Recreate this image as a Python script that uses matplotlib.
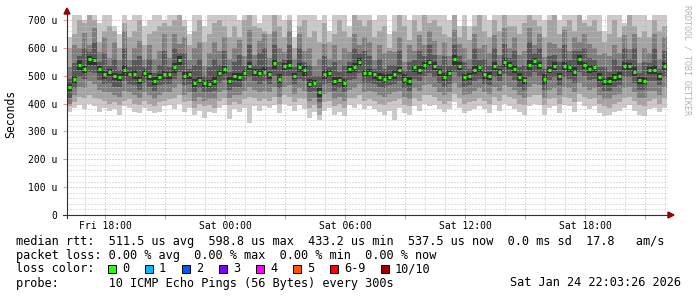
import numpy as np
import matplotlib
matplotlib.use("Agg")
import matplotlib.pyplot as plt
import matplotlib.patches as mpatches
from matplotlib.lines import Line2D
from matplotlib.ticker import MultipleLocator, FixedLocator

W, H = 697, 297
MONO = "DejaVu Sans Mono"

# time axis: hours since Fri 00:00, one value every 15 minutes
T_START = 16.1
STEP_H = 0.25

# median rtt (microseconds)
median = [460, 490, 540, 525, 560, 555, 525, 505, 515, 500, 495, 520, 505, 505, 485, 510, 500, 480, 495, 505,
          505, 530, 555, 500, 505, 475, 485, 475, 472, 480, 510, 525, 480, 500, 495, 510, 535, 515, 510, 515,
          505, 545, 490, 535, 540, 500, 530, 520, 472, 475, 440, 505, 510, 480, 485, 475, 525, 530, 550, 510,
          510, 505, 495, 490, 495, 505, 520, 490, 480, 530, 520, 540, 550, 535, 515, 495, 510, 560, 535, 495,
          500, 520, 530, 505, 500, 535, 515, 548, 540, 525, 495, 485, 540, 552, 540, 488, 522, 535, 500, 535,
          530, 515, 560, 538, 525, 530, 495, 480, 480, 495, 500, 535, 535, 515, 485, 482, 520, 522, 500, 535]

# sorted pings (smoke), ping1 = fastest ... ping10 = slowest
ping10 = [640, 760, 760, 700, 760, 760, 690, 760, 760, 680, 650, 760, 700, 760, 760, 680, 700, 760, 760, 700,
          760, 760, 760, 700, 650, 760, 760, 680, 760, 760, 760, 720, 760, 760, 700, 760, 760, 760, 690, 760,
          760, 760, 760, 700, 760, 640, 760, 760, 760, 760, 700, 760, 660, 760, 760, 760, 680, 760, 760, 760,
          760, 700, 760, 760, 650, 760, 760, 760, 700, 760, 760, 760, 720, 760, 760, 760, 700, 760, 680, 760,
          680, 760, 760, 760, 700, 760, 760, 760, 760, 720, 760, 760, 760, 760, 760, 700, 760, 760, 700, 760,
          760, 760, 760, 700, 760, 760, 760, 660, 760, 760, 760, 690, 760, 760, 760, 760, 700, 760, 760, 740]
ping9 = [600, 650, 700, 690, 720, 700, 620, 660, 680, 660, 600, 690, 640, 660, 700, 610, 650, 660, 680, 690,
         680, 700, 720, 680, 610, 660, 700, 620, 650, 690, 700, 680, 640, 680, 640, 700, 720, 680, 670, 660,
         650, 720, 680, 640, 700, 600, 680, 700, 640, 660, 620, 690, 620, 650, 700, 660, 640, 720, 700, 680,
         700, 640, 660, 680, 600, 660, 720, 680, 630, 700, 660, 720, 690, 700, 680, 650, 640, 720, 640, 680,
         630, 680, 720, 660, 640, 700, 660, 720, 680, 680, 650, 690, 720, 700, 680, 640, 700, 720, 650, 680,
         700, 660, 720, 690, 680, 700, 660, 620, 650, 700, 640, 680, 720, 680, 640, 660, 640, 700, 660, 680]
ping8 = [530, 610, 600, 655, 610, 670, 585, 640, 565, 620, 555, 660, 555, 600, 625, 560, 610, 560, 590, 650,
         565, 650, 615, 640, 555, 600, 620, 535, 580, 620, 590, 640, 560, 600, 630, 570, 665, 575, 625, 650,
         565, 660, 600, 585, 660, 560, 650, 590, 600, 535, 560, 615, 560, 610, 555, 600, 585, 650, 610, 640,
         620, 555, 610, 580, 590, 585, 640, 550, 610, 590, 645, 610, 660, 625, 575, 620, 570, 665, 615, 600,
         560, 650, 600, 610, 580, 645, 575, 670, 600, 640, 575, 590, 670, 612, 650, 568, 620, 615, 600, 665,
         590, 640, 620, 650, 615, 600, 575, 580, 570, 610, 580, 645, 595, 650, 545, 600, 580, 650, 560, 640]
ping7 = [490, 545, 570, 600, 585, 620, 550, 580, 535, 560, 520, 600, 530, 555, 570, 530, 560, 510, 540, 590,
         530, 600, 580, 580, 525, 540, 560, 500, 530, 560, 540, 590, 515, 550, 575, 535, 610, 540, 580, 600,
         530, 610, 550, 560, 610, 530, 600, 550, 540, 500, 500, 570, 530, 550, 515, 540, 550, 600, 580, 590,
         570, 525, 560, 525, 540, 540, 590, 520, 550, 555, 590, 570, 610, 575, 540, 570, 535, 610, 570, 550,
         525, 600, 555, 560, 535, 600, 540, 615, 565, 590, 530, 540, 620, 580, 600, 525, 570, 575, 550, 610,
         555, 590, 590, 600, 565, 555, 530, 530, 515, 560, 535, 600, 560, 600, 510, 550, 545, 600, 525, 590]
ping6 = [470, 500, 555, 535, 570, 565, 535, 520, 525, 510, 505, 540, 515, 520, 500, 520, 510, 495, 505, 520,
         515, 545, 570, 515, 515, 490, 495, 485, 485, 500, 520, 535, 495, 510, 510, 520, 550, 525, 525, 530,
         515, 560, 505, 545, 555, 510, 545, 535, 490, 485, 455, 520, 520, 495, 495, 490, 535, 545, 565, 520,
         525, 515, 510, 505, 505, 520, 530, 505, 495, 540, 535, 550, 560, 550, 525, 510, 520, 575, 550, 505,
         510, 535, 540, 515, 515, 550, 525, 565, 550, 540, 510, 495, 555, 565, 550, 505, 530, 550, 510, 550,
         540, 530, 575, 550, 540, 540, 510, 490, 495, 505, 515, 550, 545, 530, 495, 495, 530, 540, 510, 550]
ping5 = [445, 475, 520, 510, 540, 540, 510, 490, 500, 485, 480, 500, 495, 490, 470, 495, 485, 465, 485, 490,
         490, 510, 540, 490, 490, 460, 475, 460, 460, 465, 495, 505, 470, 485, 480, 500, 520, 500, 495, 505,
         490, 525, 475, 520, 525, 490, 515, 500, 455, 465, 425, 490, 495, 465, 475, 460, 510, 515, 535, 495,
         495, 490, 480, 475, 485, 490, 505, 475, 465, 515, 505, 525, 535, 520, 500, 480, 495, 540, 520, 480,
         485, 505, 515, 490, 485, 520, 500, 530, 525, 510, 480, 470, 520, 540, 525, 470, 510, 520, 485, 520,
         515, 500, 540, 525, 510, 515, 480, 465, 465, 480, 485, 520, 520, 500, 470, 470, 505, 505, 485, 520]
ping4 = [420, 455, 495, 490, 515, 510, 485, 470, 475, 460, 460, 480, 470, 465, 450, 475, 460, 445, 465, 470,
         470, 490, 515, 465, 470, 440, 455, 440, 440, 445, 475, 485, 450, 460, 460, 480, 495, 480, 470, 480,
         470, 500, 455, 500, 500, 470, 490, 480, 440, 445, 405, 470, 475, 445, 455, 440, 485, 490, 510, 475,
         475, 470, 460, 455, 465, 470, 480, 455, 445, 490, 480, 500, 510, 495, 475, 460, 470, 515, 495, 460,
         465, 480, 490, 470, 465, 495, 480, 505, 500, 485, 460, 450, 495, 515, 500, 450, 485, 495, 465, 495,
         490, 475, 515, 500, 485, 490, 460, 445, 445, 460, 465, 495, 495, 475, 450, 450, 480, 480, 465, 495]
ping3 = [400, 430, 460, 455, 480, 470, 450, 440, 440, 430, 425, 445, 440, 430, 420, 440, 430, 415, 430, 440,
         440, 455, 470, 430, 440, 410, 425, 410, 415, 415, 440, 450, 420, 430, 430, 445, 460, 450, 440, 445,
         440, 460, 425, 460, 465, 435, 455, 445, 410, 420, 385, 435, 440, 415, 425, 410, 450, 455, 470, 440,
         445, 440, 430, 425, 435, 440, 445, 425, 415, 455, 445, 465, 470, 460, 440, 430, 440, 475, 455, 430,
         435, 445, 455, 440, 435, 460, 445, 465, 460, 450, 430, 420, 460, 470, 465, 420, 450, 455, 430, 460,
         455, 440, 475, 460, 450, 455, 430, 415, 415, 430, 435, 455, 460, 440, 420, 420, 445, 445, 430, 460]
ping2 = [390, 405, 425, 420, 430, 420, 415, 410, 400, 405, 395, 410, 415, 400, 395, 410, 400, 390, 405, 410,
         415, 420, 430, 405, 410, 385, 400, 390, 395, 385, 410, 420, 395, 405, 400, 415, 425, 420, 410, 415,
         410, 425, 400, 430, 425, 405, 420, 415, 385, 395, 360, 405, 410, 390, 400, 385, 420, 420, 430, 410,
         415, 410, 400, 395, 405, 410, 415, 395, 390, 420, 410, 430, 430, 425, 410, 400, 410, 435, 420, 400,
         405, 410, 420, 410, 400, 425, 410, 430, 425, 415, 400, 395, 425, 430, 430, 395, 415, 420, 400, 425,
         420, 405, 435, 425, 415, 420, 400, 390, 385, 400, 405, 420, 425, 410, 395, 390, 410, 415, 400, 420]
ping1 = [370, 385, 395, 380, 400, 390, 370, 385, 375, 380, 360, 390, 385, 370, 365, 385, 375, 365, 370, 390,
         395, 380, 400, 370, 385, 360, 375, 350, 370, 365, 385, 395, 345, 380, 370, 385, 330, 390, 375, 390,
         385, 395, 365, 400, 390, 375, 395, 380, 350, 370, 340, 375, 385, 360, 370, 355, 395, 385, 400, 380,
         390, 380, 370, 360, 375, 340, 385, 365, 360, 390, 375, 400, 390, 395, 380, 370, 380, 405, 385, 365,
         375, 380, 390, 380, 365, 395, 375, 400, 390, 380, 370, 360, 390, 400, 395, 360, 385, 390, 365, 395,
         390, 370, 405, 390, 380, 390, 365, 355, 360, 370, 375, 385, 395, 375, 360, 355, 380, 385, 370, 385]

SMOKE_COLORS = ["#cacaca", "#a4a4a4", "#7e7e7e", "#585858", "#323232"]
MEDIAN_COLOR = "#26ff00"

x_ticks = [18, 21, 24, 27, 30, 33, 36, 39, 42, 45]
x_labels = ["Fri 18:00", "", "Sat 00:00", "", "Sat 06:00", "", "Sat 12:00", "", "Sat 18:00", ""]
y_ticks = [0, 100, 200, 300, 400, 500, 600, 700]
y_labels = ["0", "100 u", "200 u", "300 u", "400 u", "500 u", "600 u", "700 u"]

loss_labels = ["0", "1", "2", "3", "4", "5", "6-9", "10/10"]
loss_colors = ["#26ff00", "#00b8ff", "#0059ff", "#7e00ff", "#ff00ff", "#ff5500", "#ff0000", "#a00000"]

legend_rtt = "median rtt:  511.5 us avg  598.8 us max  433.2 us min  537.5 us now  0.0 ms sd  17.8   am/s"
legend_loss = "packet loss: 0.00 % avg  0.00 % max  0.00 % min  0.00 % now"
legend_probe = "probe:       10 ICMP Echo Pings (56 Bytes) every 300s"
stamp = "Sat Jan 24 22:03:26 2026"


def px(x, y):
    # pixel (from top-left) -> figure fraction
    return x / W, 1 - y / H


fig = plt.figure(figsize=(W / 100, H / 100), dpi=100, facecolor="white")
ax = fig.add_axes([67 / W, (H - 215) / H, 601 / W, 200 / H])
ax.set_facecolor("white")

n = len(median)
edges = T_START + STEP_H * np.arange(n + 1)


def ext(a):
    return np.append(a, a[-1])


lows = [ping1, ping2, ping3, ping4, ping5]
highs = [ping10, ping9, ping8, ping7, ping6]
for lo, hi, col in zip(lows, highs, SMOKE_COLORS):
    ax.fill_between(edges, ext(lo), ext(hi), step="post", color=col, linewidth=0, zorder=1)

# median as short green dashes
t0 = edges[:-1]
ax.hlines(median, t0 + 0.04, t0 + 0.21, colors=MEDIAN_COLOR, linewidth=2.2, zorder=4)

ax.set_xlim(T_START, T_START + 30.05)
ax.set_ylim(0, 718)

ax.xaxis.set_major_locator(FixedLocator(x_ticks))
ax.set_xticklabels(x_labels)
ax.xaxis.set_minor_locator(MultipleLocator(1))
ax.yaxis.set_major_locator(FixedLocator(y_ticks))
ax.set_yticklabels(y_labels)
ax.yaxis.set_minor_locator(MultipleLocator(20))

ax.set_axisbelow(False)
ax.grid(which="minor", color="#c4c4c4", linewidth=0.72, linestyle=(0, (1, 2)), zorder=2)
ax.grid(which="major", color="#e49a9a", linewidth=0.72, linestyle=(0, (1, 2)), zorder=3)

for s in ax.spines.values():
    s.set_visible(False)

ax.tick_params(axis="both", which="major", length=3, width=0.7, color="#e49a9a",
               labelsize=7, direction="out")
ax.tick_params(axis="both", which="minor", length=0)
ax.tick_params(axis="x", pad=1)
ax.tick_params(axis="y", pad=4)
for lab in ax.get_xticklabels() + ax.get_yticklabels():
    lab.set_family(MONO)

# axis lines and arrows
axis_col = "#303030"
arrow_col = "#990000"
fig.add_artist(Line2D([67 / W, 67 / W], [1 - 218 / H, 1 - 12 / H], color=axis_col, linewidth=0.8))
fig.add_artist(Line2D([63 / W, 669 / W], [1 - 215 / H, 1 - 215 / H], color=axis_col, linewidth=0.8))
fig.add_artist(mpatches.Polygon([px(64, 14), px(70, 14), px(67, 8)], closed=True,
                                color=arrow_col, transform=fig.transFigure))
fig.add_artist(mpatches.Polygon([px(668, 212), px(668, 218), px(674, 215)], closed=True,
                                color=arrow_col, transform=fig.transFigure))

# labels
fig.text(*px(11, 114), "Seconds", rotation=90, family=MONO, fontsize=8.3, ha="center", va="center")
fig.text(*px(687, 60), "RRDTOOL / TOBI OETIKER", rotation=270, family=MONO, fontsize=6,
         color="#b4b4b4", ha="center", va="center")

# legend block
fs = 8.53
fig.text(*px(16, 241), legend_rtt, family=MONO, fontsize=fs, va="center")
fig.text(*px(16, 255), legend_loss, family=MONO, fontsize=fs, va="center")
fig.text(*px(16, 269), "loss color:", family=MONO, fontsize=fs, va="center")
box_x = [108, 145, 182, 219, 256, 293, 330, 381]
for bx, lab, col in zip(box_x, loss_labels, loss_colors):
    fig.add_artist(mpatches.Rectangle(px(bx, 273), 8 / W, 8 / H, facecolor=col, edgecolor="black",
                                      linewidth=0.7, transform=fig.transFigure))
    fig.text(*px(bx + 14, 269), lab, family=MONO, fontsize=fs, va="center")
fig.text(*px(16, 283), legend_probe, family=MONO, fontsize=fs, va="center")
fig.text(*px(681, 283), stamp, family=MONO, fontsize=fs, va="center", ha="right")

fig.savefig("out.png", dpi=100, facecolor="white")
